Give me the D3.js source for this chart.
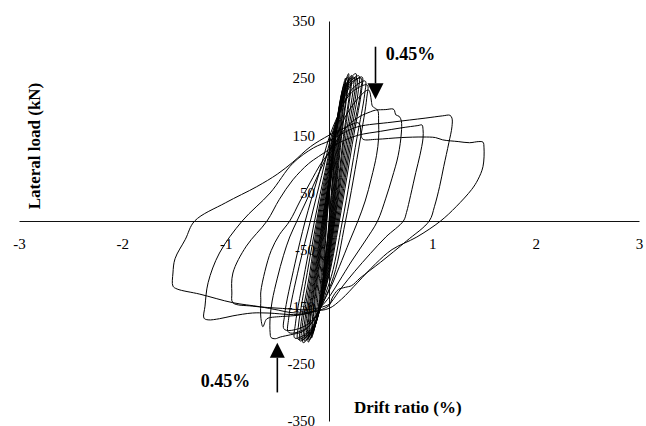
<!DOCTYPE html>
<html>
<head>
<meta charset="utf-8">
<script src="https://cdn.jsdelivr.net/npm/d3@7"></script>
<style>
  html, body { margin: 0; padding: 0; background: #fff; }
  svg { display: block; }
  text { font-family: "Liberation Serif", "Times New Roman", serif; fill: #000; }
</style>
</head>
<body>
<div id="chart"></div>
<script>
// ------------------------------------------------------------------
// Data (drift ratio %, lateral load kN)

const xTicks = [-3, -2, -1, 1, 2, 3];
const yTicks = [350, 250, 150, 50, -50, -150, -250, -350];

// small elastic cycles around the origin
const loop005 = [[-0.02,0],[0.00,40],[0.03,85],[0.05,108],[0.045,95],[0.02,45],[0.00,0],[-0.02,-40],[-0.05,-85],[-0.06,-95],[-0.05,-80],[-0.035,-40]];
const loop007 = [[-0.025,0],[0.00,45],[0.04,105],[0.065,140],[0.06,125],[0.03,60],[0.005,0],[-0.025,-50],[-0.06,-105],[-0.08,-125],[-0.075,-110],[-0.045,-50]];
const loop009 = [[-0.03,0],[0.00,50],[0.05,125],[0.08,165],[0.09,175],[0.085,160],[0.05,90],[0.01,0],[-0.03,-55],[-0.07,-115],[-0.10,-150],[-0.095,-135],[-0.06,-60]];
const loop011 = [[-0.035,0],[0.00,55],[0.055,140],[0.095,195],[0.11,205],[0.105,185],[0.065,105],[0.015,0],[-0.03,-62],[-0.08,-130],[-0.12,-170],[-0.115,-150],[-0.075,-68]];
const loop013 = [[-0.04,0],[0.00,60],[0.06,150],[0.11,210],[0.13,225],[0.125,205],[0.08,120],[0.02,0],[-0.03,-70],[-0.09,-145],[-0.14,-185],[-0.135,-165],[-0.09,-75]];
const loop015 = [[-0.045,0],[0.00,62],[0.065,160],[0.12,222],[0.15,240],[0.145,220],[0.09,128],[0.025,0],[-0.03,-76],[-0.10,-158],[-0.16,-198],[-0.155,-176],[-0.10,-80]];
const loop016 = [[-0.05,0],[0.00,65],[0.07,165],[0.13,230],[0.16,250],[0.155,228],[0.10,135],[0.03,0],[-0.03,-80],[-0.11,-165],[-0.17,-205],[-0.165,-182],[-0.11,-85]];
const loop018 = [[-0.055,0],[0.00,68],[0.075,168],[0.14,235],[0.18,252],[0.175,232],[0.11,140],[0.035,0],[-0.035,-90],[-0.12,-175],[-0.19,-208],[-0.185,-186],[-0.12,-90]];
const loop019 = [[-0.06,0],[0.00,70],[0.08,170],[0.15,238],[0.19,258],[0.185,238],[0.12,145],[0.04,0],[-0.04,-95],[-0.13,-180],[-0.20,-212],[-0.195,-190],[-0.13,-95]];
const loop021 = [[-0.065,0],[0.00,72],[0.085,172],[0.16,238],[0.21,250],[0.205,232],[0.14,148],[0.045,0],[-0.04,-98],[-0.135,-180],[-0.21,-206],[-0.205,-186],[-0.14,-98]];
const loop022 = [[-0.07,0],[0.00,75],[0.09,175],[0.17,240],[0.22,255],[0.215,235],[0.15,150],[0.05,0],[-0.04,-100],[-0.14,-182],[-0.22,-208],[-0.215,-188],[-0.15,-100]];
const loop024 = [[-0.08,0],[-0.005,78],[0.09,178],[0.18,242],[0.24,252],[0.235,232],[0.165,150],[0.055,0],[-0.04,-105],[-0.145,-186],[-0.235,-210],[-0.23,-188],[-0.16,-100]];
const loop026 = [[-0.09,0],[-0.01,80],[0.09,180],[0.19,245],[0.26,258],[0.255,235],[0.18,150],[0.06,0],[-0.04,-110],[-0.15,-190],[-0.25,-213],[-0.245,-190],[-0.17,-100]];
const loop027 = [[-0.10,0],[-0.015,82],[0.09,182],[0.20,244],[0.27,250],[0.265,228],[0.195,150],[0.07,0],[-0.035,-110],[-0.155,-188],[-0.265,-208],[-0.26,-186],[-0.18,-98]];
const loop029 = [[-0.11,0],[-0.02,85],[0.09,185],[0.21,245],[0.29,254],[0.285,230],[0.21,150],[0.08,0],[-0.03,-110],[-0.16,-190],[-0.28,-210],[-0.275,-185],[-0.19,-95]];
const loop031 = [[-0.12,0],[-0.03,85],[0.085,182],[0.215,242],[0.31,250],[0.305,226],[0.225,150],[0.09,0],[-0.025,-110],[-0.17,-190],[-0.30,-207],[-0.295,-182],[-0.21,-90]];
const loop032 = [[-0.14,0],[-0.04,85],[0.08,180],[0.22,240],[0.32,252],[0.315,228],[0.24,150],[0.10,0],[-0.02,-110],[-0.18,-190],[-0.33,-205],[-0.325,-180],[-0.23,-85]];
const loop035 = [[-0.18,0],[-0.07,80],[0.06,170],[0.22,230],[0.35,245],[0.345,222],[0.27,145],[0.13,0],[0.00,-110],[-0.20,-185],[-0.39,-195],[-0.39,-170],[-0.29,-80]];
const loop037 = [[-0.23,0],[-0.11,75],[0.04,165],[0.22,225],[0.37,238],[0.365,215],[0.30,140],[0.16,0],[0.02,-110],[-0.20,-180],[-0.43,-190],[-0.43,-165],[-0.33,-75]];

// large cycles (0.45 % and beyond)
const loop045 = [[-0.31,0],[-0.22,35],[-0.12,75],[-0.03,110],[0.05,140],[0.15,180],[0.25,208],[0.32,222],[0.36,228],[0.385,229],[0.40,222],[0.41,210],[0.42,201],[0.44,198],[0.46,196],[0.475,192],[0.48,175],[0.48,145],[0.46,115],[0.41,75],[0.35,35],[0.28,0],[0.20,-35],[0.10,-80],[0.02,-115],[-0.05,-140],[-0.12,-165],[-0.20,-185],[-0.26,-194],[-0.37,-199],[-0.47,-203],[-0.52,-206],[-0.56,-204],[-0.57,-195],[-0.57,-170],[-0.55,-140],[-0.50,-100],[-0.44,-60],[-0.38,-28]];
const loop066 = [[-0.38,0],[-0.28,35],[-0.18,68],[-0.08,100],[0.00,120],[0.10,148],[0.20,170],[0.30,183],[0.40,191],[0.45,194],[0.55,195],[0.62,196],[0.635,193],[0.645,186],[0.68,183],[0.70,175],[0.70,154],[0.67,115],[0.61,75],[0.55,40],[0.47,0],[0.35,-35],[0.22,-70],[0.10,-105],[0.02,-128],[-0.05,-145],[-0.15,-158],[-0.30,-165],[-0.45,-167],[-0.59,-170],[-0.61,-173],[-0.64,-185],[-0.66,-168],[-0.66,-138],[-0.66,-124],[-0.62,-88],[-0.56,-52],[-0.48,-24]];
const loop090 = [[-0.60,0],[-0.48,38],[-0.35,72],[-0.20,100],[-0.10,113],[0.00,125],[0.10,137],[0.28,150],[0.50,157],[0.70,163],[0.86,167],[0.90,168],[0.91,160],[0.91,145],[0.88,115],[0.84,85],[0.79,45],[0.75,15],[0.72,0],[0.55,-28],[0.40,-57],[0.25,-88],[0.12,-117],[0.03,-140],[0.00,-146],[-0.20,-155],[-0.45,-153],[-0.74,-149],[-0.93,-143],[-0.94,-126],[-0.93,-91],[-0.80,-44]];
const loop118 = [[-0.84,0],[-0.57,49],[-0.35,101],[-0.15,128],[0.00,140],[0.15,155],[0.28,165],[0.61,173],[0.93,180],[1.10,184],[1.17,185],[1.19,180],[1.19,165],[1.16,137],[1.11,95],[1.07,60],[1.02,25],[0.97,0],[0.75,-35],[0.50,-72],[0.30,-100],[0.22,-113],[0.16,-116],[0.09,-120],[0.03,-135],[0.00,-148],[-0.26,-163],[-0.60,-161],[-0.74,-161],[-0.93,-166],[-1.06,-171],[-1.17,-173],[-1.21,-170],[-1.20,-149],[-1.17,-108],[-1.06,-56]];
const loop150 = [[-1.30,0],[-1.00,32],[-0.70,60],[-0.50,82],[-0.35,103],[-0.18,130],[0.00,150],[0.15,163],[0.28,172],[0.30,168],[0.31,150],[0.33,143],[0.46,143],[0.70,146],[0.91,147],[1.03,146],[1.10,142],[1.25,139],[1.36,137],[1.45,139],[1.49,138],[1.50,128],[1.49,95],[1.44,72],[1.38,55],[1.23,25],[1.08,0],[0.85,-28],[0.61,-50],[0.45,-75],[0.28,-107],[0.12,-137],[0.00,-153],[-0.15,-158],[-0.26,-161],[-0.38,-160],[-0.49,-156],[-0.67,-150],[-0.93,-143],[-1.25,-128],[-1.47,-119],[-1.51,-114],[-1.51,-91],[-1.49,-66],[-1.39,-32]];

const loops = [loop005, loop007, loop009, loop011, loop013, loop015, loop016, loop018,
  loop019, loop021, loop022, loop024, loop026, loop027, loop029, loop031, loop032,
  loop035, loop037, loop045, loop066, loop090, loop118, loop150];

// "0.45%" call-outs: drift, arrow tip load, arrow tail load
const arrowTop = { drift: 0.45, tip: 213, tail: 305, label: '0.45%' };
const arrowBottom = { drift: -0.5, tip: -213, tail: -300, label: '0.45%' };

// ------------------------------------------------------------------
// Chart

const width = 646;
const height = 426;

const x = d3.scaleLinear().domain([-3, 3]).range([19, 639]);
const y = d3.scaleLinear().domain([-350, 350]).range([421, 21]);

const svg = d3.select('#chart').append('svg')
  .attr('width', width)
  .attr('height', height);

// axes cross at the origin, labels sit under the curves
svg.append('g')
  .attr('transform', `translate(0,${y(0)})`)
  .call(d3.axisBottom(x).tickValues(xTicks).tickSize(0).tickSizeOuter(0)
    .tickPadding(17).tickFormat(d => String(d)))
  .attr('font-size', 15)
  .attr('font-family', null);

svg.append('g')
  .attr('transform', `translate(${x(0)},0)`)
  .call(d3.axisLeft(y).tickValues(yTicks).tickSize(0).tickSizeOuter(0)
    .tickPadding(14).tickFormat(d => String(d)))
  .attr('font-size', 15)
  .attr('font-family', null);

svg.selectAll('.domain').attr('stroke', '#111');

const line = d3.line()
  .x(d => x(d[0]))
  .y(d => y(d[1]))
  .curve(d3.curveCatmullRomClosed.alpha(0.5));

svg.append('g')
  .selectAll('path')
  .data(loops)
  .join('path')
  .attr('d', line)
  .attr('fill', 'none')
  .attr('stroke', '#000')
  .attr('stroke-width', 1);

// arrows with their labels
function drawArrow(a, headLen, halfW, labelX, labelY) {
  const ax = x(a.drift);
  const tipY = y(a.tip);
  const baseY = tipY + (y(a.tail) > tipY ? headLen : -headLen);
  svg.append('line')
    .attr('x1', ax).attr('x2', ax)
    .attr('y1', y(a.tail)).attr('y2', baseY)
    .attr('stroke', '#000')
    .attr('stroke-width', 1.6);
  svg.append('path')
    .attr('d', `M${ax - halfW},${baseY}L${ax + halfW},${baseY}L${ax},${tipY}Z`)
    .attr('fill', '#000');
  svg.append('text')
    .attr('x', x(labelX))
    .attr('y', y(labelY))
    .attr('font-size', 18)
    .attr('font-weight', 'bold')
    .text(a.label);
}

drawArrow(arrowTop, 16, 8, 0.55, 282);
drawArrow(arrowBottom, 15, 7.5, -1.24, -291);

// axis titles
svg.append('text')
  .attr('transform', 'translate(40,146) rotate(-90)')
  .attr('text-anchor', 'middle')
  .attr('font-size', 17)
  .attr('font-weight', 'bold')
  .text('Lateral load (kN)');

svg.append('text')
  .attr('x', 354)
  .attr('y', 413)
  .attr('font-size', 17)
  .attr('font-weight', 'bold')
  .text('Drift ratio (%)');
</script>
</body>
</html>
